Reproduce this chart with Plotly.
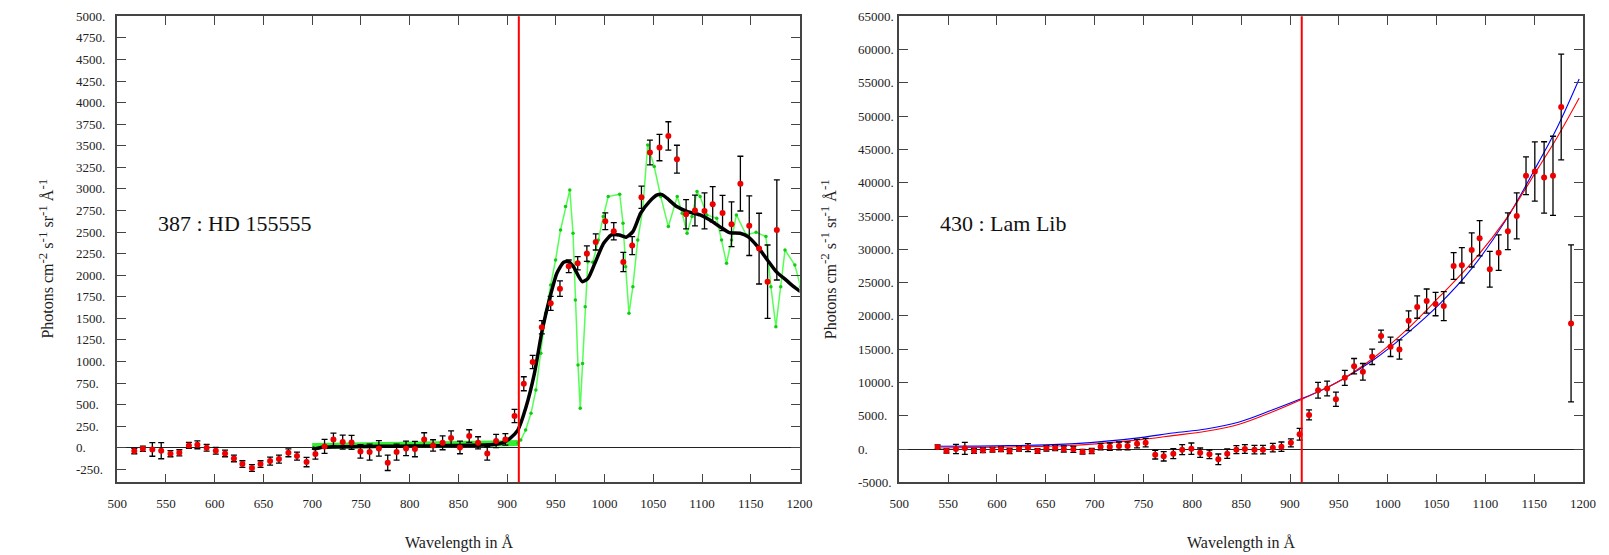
import plotly.graph_objects as go

# The page body adds an 8 px margin; the figure is sized so it does not overflow horizontally.
OFF = 8
W, H = 1609 - 2 * OFF, 555 - OFF

# ---------------- Left panel: 387 : HD 155555 ----------------
hd_x = [517.5, 526.3, 536.0, 545.1, 554.6, 563.7, 573.5, 582.2, 591.7, 601.1,
        610.6, 619.7, 628.4, 638.2, 647.0, 656.8, 665.9, 675.6, 684.4, 694.2,
        703.3, 712.7, 721.8, 731.3, 740.4, 749.5, 758.9, 768.4, 777.5, 786.6,
        796.3, 805.4, 814.9, 824.0, 833.8, 842.5, 851.6, 861.1, 870.2, 879.6,
        888.7, 898.2, 907.6, 917.1, 926.2, 935.6, 944.7, 954.2, 963.2, 972.4,
        981.8, 990.9, 1000.7, 1009.4, 1019.2, 1028.3, 1037.8, 1046.5, 1056.3, 1065.4,
        1074.2, 1083.6, 1092.7, 1102.5, 1110.9, 1121.0, 1130.2, 1139.3, 1148.4, 1158.5,
        1167.2, 1176.7]
hd_y = [-38, -11, -19, -34, -69, -58, 27, 35, 0, -34,
        -65, -123, -189, -235, -189, -154, -131, -58, -96, -166,
        -73, 16, 97, 66, 62, -42, -50, -7, -174, -50,
        -7, -15, 97, 27, 58, 112, 4, 136, 58, -65,
        78, 97, 368, 742, 994, 1396, 1674, 1844, 2103, 2138,
        2250, 2385, 2625, 2509, 2153, 2343, 2903, 3421, 3479, 3614,
        3344, 2706, 2749, 2745, 2822, 2721, 2590, 3061, 2574, 2308,
        1925, 2524]
hd_err = [31, 31, 79, 93, 35, 35, 35, 46, 39, 39,
          39, 39, 39, 39, 39, 46, 46, 46, 46, 54,
          58, 81, 73, 81, 81, 77, 93, 89, 89, 93,
          85, 89, 77, 66, 81, 85, 73, 73, 70, 77,
          77, 66, 77, 81, 77, 77, 81, 89, 73, 77,
          89, 93, 97, 100, 112, 104, 128, 143, 153, 164,
          162, 170, 178, 209, 205, 205, 259, 317, 346, 410,
          425, 580]

model_x = [700, 703, 710, 720, 740, 760, 780, 800, 820, 840, 860, 880, 890, 896,
           903, 911, 919, 928, 936, 945, 951, 958, 963, 968, 977, 983, 990, 999,
           1007, 1015, 1022, 1029, 1037, 1046, 1054, 1059, 1064, 1074, 1085, 1098,
           1108, 1118, 1128, 1139, 1147, 1157, 1167, 1176, 1186, 1194, 1201]
model_y = [0, -10, 5, 10, 12, 15, 18, 20, 22, 25, 28, 35, 45, 60,
           110, 205, 457, 862, 1365, 1790, 2022, 2150, 2158, 2099, 1925, 1964, 2138, 2370,
           2466, 2466, 2440, 2505, 2718, 2853, 2930, 2934, 2892, 2795, 2737, 2698,
           2640, 2563, 2493, 2486, 2447, 2331, 2176, 2041, 1945, 1867, 1809]

green_flat_x = [700, 750, 800, 850, 900, 911]
green_flat_y = [22, 28, 32, 38, 45, 55]
green_x = [911, 914, 919, 924.5, 929.5, 934.6, 939.6, 944.7, 949.7, 954.8,
           959.9, 964.3, 967.6, 970, 972.7, 975, 977.4, 980.1, 982.8, 988,
           993.6, 998.6, 1003.7, 1015.5, 1018.9, 1021.6, 1025, 1029, 1034, 1039.1,
           1044.2, 1050.9, 1057.6, 1065.4, 1074.5, 1079.6, 1084.6, 1089.7, 1094.8, 1098,
           1104.9, 1115, 1120, 1125.1, 1130.2, 1135.2, 1145.3, 1155.4, 1165.5, 1170.6,
           1175.7, 1180.7, 1185.1, 1195.2, 1201]
green_y = [55, 89, 205, 399, 669, 1094, 1558, 1887, 2176, 2524,
           2795, 2988, 2486, 1713, 959, 457, 978, 1635, 2157, 2150,
           2408, 2679, 2911, 2938, 2602, 2099, 1558, 1867, 2408, 2756,
           3510, 3259, 2911, 2563, 2911, 2718, 2486, 2679, 2969, 2911,
           2698, 2660, 2408, 2138, 2408, 2698, 2466, 2497, 2447, 1867,
           1403, 1867, 2292, 2118, 1867]

# ---------------- Right panel: 430 : Lam Lib ----------------
ll_x = [539.2, 548.3, 558.0, 567.1, 576.5, 585.6, 595.4, 604.1, 612.9, 622.6,
        631.7, 641.5, 650.6, 659.6, 668.4, 678.2, 687.6, 697.0, 706.1, 715.5,
        724.9, 733.7, 743.4, 752.2, 762.0, 770.7, 780.5, 789.6, 799.0, 808.0,
        817.5, 826.6, 835.7, 845.1, 853.8, 863.6, 872.3, 882.4, 891.2, 900.9,
        909.8, 919.5, 928.7, 938.0, 947.0, 956.1, 965.6, 974.6, 984.1, 993.2,
        1002.9, 1012.0, 1021.4, 1030.2, 1039.9, 1049.0, 1057.4, 1067.5, 1075.9, 1086.0,
        1094.1, 1104.5, 1113.6, 1123.0, 1132.1, 1141.6, 1150.6, 1160.1, 1169.2, 1177.6,
        1187.7]
ll_y = [306, -296, 5, 105, -296, -196, -95, -45, -296, 55,
        206, -296, 105, 155, 5, -45, -396, -296, 356, 356,
        456, 456, 808, 959, -848, -1099, -697, -95, 55, -547,
        -798, -1550, -697, -95, 5, -95, -95, 206, 356, 930,
        2212, 5122, 8834, 9085, 7479, 10690, 12446, 11592, 13850, 16961,
        15355, 14954, 19268, 21325, 22228, 21776, 21475, 27494, 27595, 29902,
        31658, 26993, 29500, 32711, 35018, 41037, 41689, 40786, 41037, 51372,
        18866]
ll_err = [300, 300, 700, 900, 350, 350, 350, 350, 400, 350,
          600, 350, 400, 400, 450, 450, 350, 400, 500, 550,
          600, 600, 650, 650, 650, 700, 750, 750, 850, 700,
          650, 800, 700, 600, 650, 650, 650, 650, 700, 600,
          878, 752, 1179, 1103, 1079, 1129, 1154, 1254, 1154, 903,
          1455, 1455, 1480, 1680, 1806, 1756, 2182, 2006, 2659, 2558,
          2659, 2684, 2659, 2759, 3461, 2834, 4439, 5367, 5944, 7951,
          11788]

fit_x = [539, 612, 680, 747, 780, 814, 848, 881, 910, 928.5,
         952, 986, 1019, 1053, 1087, 1120, 1154, 1174, 1196]
fit_blue_y = [406, 507, 808, 1711, 2413, 3014, 4068, 5824, 7479, 8583,
              10339, 13450, 17261, 21776, 27294, 34166, 42944, 48462, 55587]
fit_red_y = [155, 306, 557, 1410, 2012, 2664, 3717, 5523, 7329, 8583,
             10339, 13750, 17863, 22879, 28146, 34316, 42191, 46957, 52727]

x_ticks = list(range(500, 1201, 50))
left_yticks = list(range(-250, 5001, 250))
right_yticks = list(range(-5000, 65001, 5000))
lyman_limit = 912

labels = ["387 : HD 155555", "430 : Lam Lib"]
SUP = '<sup><span style="font-size:13px">%s</span></sup>'
ytitle = ("Photons cm" + SUP % "-2" + " s" + SUP % "-1" + " sr" + SUP % "-1"
          + " Å" + SUP % "-1")
xtitle = "Wavelength in Å"

FONT = "Liberation Serif"
AX = "#444444"


def px2x(p):
    return (p - OFF) / W


def py2y(p):
    return (H - (p - OFF)) / H


fig = go.Figure()

# left traces
fig.add_trace(go.Scatter(x=green_flat_x, y=green_flat_y, mode="lines",
                         line=dict(color="#33ee33", width=6), xaxis="x", yaxis="y",
                         hoverinfo="skip"))
fig.add_trace(go.Scatter(x=green_x, y=green_y, mode="lines+markers",
                         line=dict(color="#55ff55", width=1.5),
                         marker=dict(color="#11cc11", size=3.5), xaxis="x", yaxis="y"))
fig.add_trace(go.Scatter(x=model_x, y=model_y, mode="lines",
                         line=dict(color="black", width=3.5, shape="spline", smoothing=0.6),
                         xaxis="x", yaxis="y"))
fig.add_trace(go.Scatter(x=hd_x, y=hd_y, mode="markers",
                         marker=dict(color="#ee0000", size=6),
                         error_y=dict(type="data", array=hd_err, color="black",
                                      thickness=1.3, width=3),
                         xaxis="x", yaxis="y"))

# right traces
fig.add_trace(go.Scatter(x=fit_x, y=fit_blue_y, mode="lines",
                         line=dict(color="#0000ff", width=1.1, shape="spline"),
                         xaxis="x2", yaxis="y2"))
fig.add_trace(go.Scatter(x=fit_x, y=fit_red_y, mode="lines",
                         line=dict(color="#ff0000", width=1.1, shape="spline"),
                         xaxis="x2", yaxis="y2"))
fig.add_trace(go.Scatter(x=ll_x, y=ll_y, mode="markers",
                         marker=dict(color="#ee0000", size=6),
                         error_y=dict(type="data", array=ll_err, color="black",
                                      thickness=1.3, width=3),
                         xaxis="x2", yaxis="y2"))

ydom = [py2y(482.3), py2y(16.3)]
common_x = dict(range=[500, 1200], tickvals=x_ticks, ticks="inside", ticklen=9,
                tickcolor=AX, tickwidth=1.2, showline=True, linecolor=AX, linewidth=1.5,
                mirror="ticks", showgrid=False, zeroline=False,
                tickfont=dict(family=FONT, size=13, color="#222"),
                ticklabelstandoff=8)
common_y = dict(ticks="inside", ticklen=9, tickcolor=AX, tickwidth=1.2,
                showline=True, linecolor=AX, linewidth=1.5, mirror="ticks",
                showgrid=False, zeroline=True, zerolinecolor="#222", zerolinewidth=1,
                showticklabels=False)

fig.update_layout(
    width=W, height=H, autosize=False,
    margin=dict(l=0, r=0, t=0, b=0),
    paper_bgcolor="white", plot_bgcolor="white",
    showlegend=False,
    xaxis=dict(domain=[px2x(108.7), px2x(801.0)], anchor="y", **common_x),
    yaxis=dict(domain=ydom, anchor="x", range=[-400, 5000], tickvals=left_yticks, **common_y),
    xaxis2=dict(domain=[px2x(902.2), px2x(1596.0)], anchor="y2", **common_x),
    yaxis2=dict(domain=ydom, anchor="x2", range=[-5000, 65000], tickvals=right_yticks, **common_y),
)

# Lyman limit lines
for xr in ["x", "x2"]:
    fig.add_shape(type="line", xref=xr, yref=("y" if xr == "x" else "y2") + " domain",
                  x0=lyman_limit, x1=lyman_limit, y0=0, y1=1,
                  line=dict(color="#ff0000", width=2))

ann = []
# y tick labels (left-aligned)
for v in left_yticks:
    ann.append(dict(x=px2x(65), xref="paper", y=v, yref="y", text=f"{v}.",
                    xanchor="left", yanchor="middle", showarrow=False,
                    font=dict(family=FONT, size=13, color="#222")))
for v in right_yticks:
    ann.append(dict(x=px2x(858), xref="paper", y=v, yref="y2", text=f"{v}.",
                    xanchor="left", yanchor="middle", showarrow=False,
                    font=dict(family=FONT, size=13, color="#222")))
# y titles
for xc in [36, 830]:
    ann.append(dict(x=px2x(xc), xref="paper", y=py2y(259), yref="paper", text=ytitle,
                    textangle=-90, xanchor="center", yanchor="middle", showarrow=False,
                    font=dict(family=FONT, size=16, color="#222")))
# x titles
for xc in [455, 1249]:
    ann.append(dict(x=px2x(xc), xref="paper", y=py2y(543), yref="paper", text=xtitle,
                    xanchor="center", yanchor="middle", showarrow=False,
                    font=dict(family=FONT, size=16, color="#222")))
# star labels
for xl, lab in zip([148.3, 941.7], labels):
    ann.append(dict(x=px2x(xl), xref="paper", y=py2y(224), yref="paper", text=lab,
                    xanchor="left", yanchor="middle", showarrow=False,
                    font=dict(family=FONT, size=22, color="#111")))
fig.update_layout(annotations=ann)

fig.write_html("out.html")
